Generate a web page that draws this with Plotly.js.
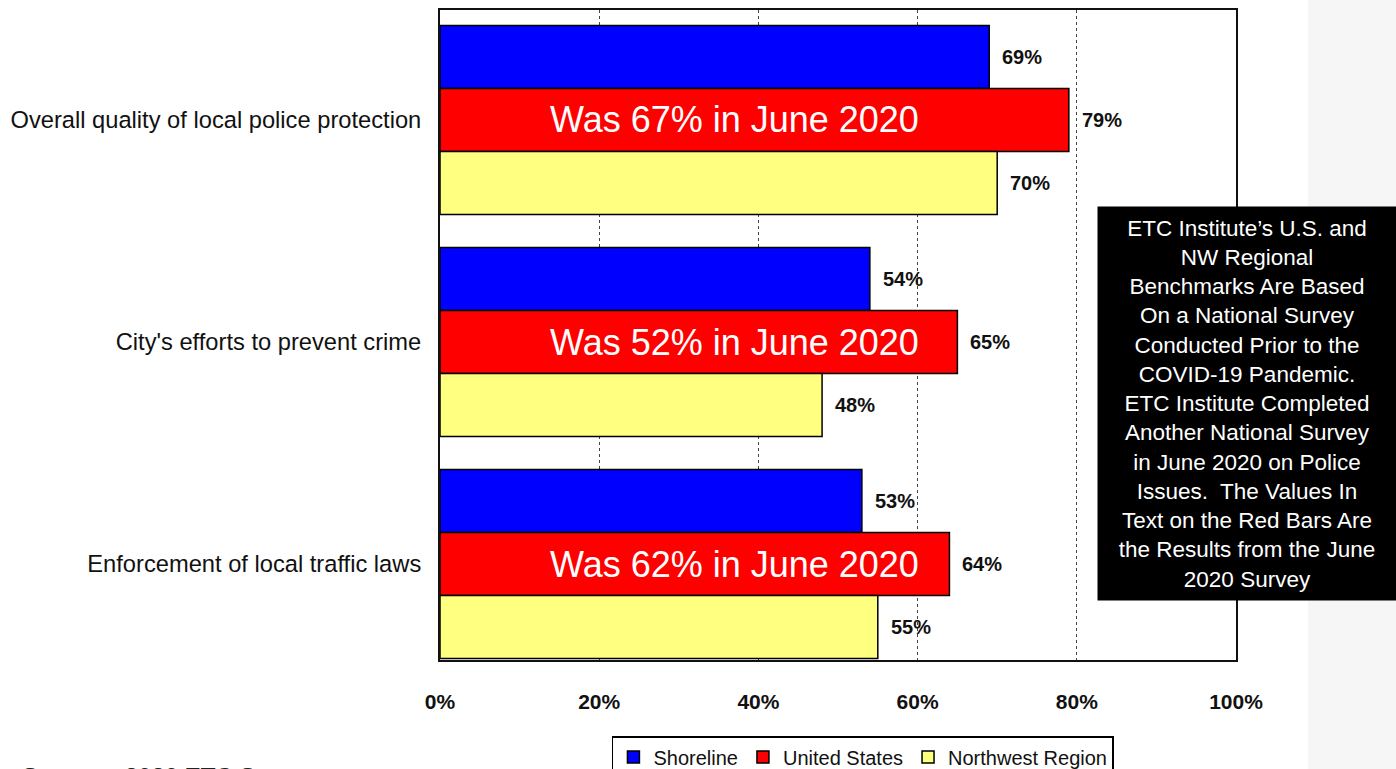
<!DOCTYPE html>
<html>
<head>
<meta charset="utf-8">
<script src="https://cdn.plot.ly/plotly-3.0.1.min.js"></script>
<style>html,body{margin:0;padding:0;background:#fff;overflow:hidden}#chart{width:1396px;height:769px}</style>
</head>
<body>
<div id="chart"></div>
<script>
const categories = ["Overall quality of local police protection", "City's efforts to prevent crime", "Enforcement of local traffic laws"];
const shoreline = [69, 54, 53];
const unitedStates = [79, 65, 64];
const northwest = [70, 48, 55];
const june2020 = [67, 52, 62];
const seriesNames = ["Shoreline", "United States", "Northwest Region"];
const seriesColors = ["#0000ff", "#ff0000", "#ffff80"];
const xTickVals = [0, 20, 40, 60, 80, 100];
const xTickText = ["0%", "20%", "40%", "60%", "80%", "100%"];
const noteText = ["ETC Institute\u2019s U.S. and", "NW Regional", "Benchmarks Are Based", "On a National Survey", "Conducted Prior to the", "COVID-19 Pandemic.", "ETC Institute Completed", "Another National Survey", "in June 2020 on Police", "Issues.  The Values In", "Text on the Red Bars Are", "the Results from the June", "2020 Survey"];
const sourceText = "Source:  2020 ETC Survey";

const FONT = "Arial, 'Liberation Sans', sans-serif";
const pos = categories.map((c, i) => i);
const bargap = 0.149;
const w = (1 - bargap) / 3;
const allSeries = [shoreline, unitedStates, northwest];

const traces = allSeries.map((vals, k) => ({
  type: "bar",
  orientation: "h",
  name: seriesNames[k],
  x: vals,
  y: pos,
  marker: {color: seriesColors[k], line: {color: "#000", width: 1.5}},
  hoverinfo: "skip"
}));

const annotations = [];
allSeries.forEach((vals, k) => {
  vals.forEach((v, i) => {
    annotations.push({
      x: v, y: i + (k - 1) * w, xref: "x", yref: "y",
      text: v + "%", showarrow: false, xanchor: "left", xshift: 11,
      font: {family: FONT, size: 20, color: "#111", weight: "bold"}
    });
  });
});
june2020.forEach((v, i) => {
  annotations.push({
    x: 37, y: i, xref: "x", yref: "y",
    text: "Was " + v + "% in June 2020", showarrow: false,
    font: {family: FONT, size: 36, color: "#fff"}
  });
});
annotations.push({
  x: 1.0138, y: 0.3946, xref: "paper", yref: "paper",
  xanchor: "center", yanchor: "middle",
  text: noteText.join("<br>"), showarrow: false,
  bgcolor: "#000", width: 290, height: 385, borderpad: 4,
  font: {family: FONT, size: 22.5, color: "#fff"}
});
annotations.push({
  x: -0.528, y: -0.155, xref: "paper", yref: "paper",
  xanchor: "left", yanchor: "top", text: sourceText, showarrow: false,
  font: {family: FONT, size: 24, color: "#222", weight: "bold"}
});

const layout = {
  width: 1396, height: 769,
  margin: {l: 440, r: 160, t: 10, b: 109, pad: 0, autoexpand: false},
  paper_bgcolor: "#fff", plot_bgcolor: "#fff",
  barmode: "group", bargap: bargap, bargroupgap: 0,
  font: {family: FONT, color: "#111"},
  xaxis: {
    range: [0, 100], tickvals: xTickVals, ticktext: xTickText,
    showgrid: true, gridcolor: "#444", griddash: "dot", gridwidth: 1,
    zeroline: false, showline: true, linecolor: "#111", linewidth: 2, mirror: true,
    ticks: "", ticklabelstandoff: 22,
    tickfont: {family: FONT, size: 21, color: "#111", weight: "bold"}
  },
  yaxis: {
    range: [2.432, -0.495], tickvals: pos, ticktext: categories,
    showgrid: false, zeroline: false, showline: true, linecolor: "#111", linewidth: 2, mirror: true,
    ticks: "", ticklabelstandoff: 12,
    tickfont: {family: FONT, size: 23.7, color: "#111"}
  },
  showlegend: true,
  legend: {
    orientation: "h", x: 0.216, xanchor: "left", y: -0.117, yanchor: "top",
    bgcolor: "#fff", bordercolor: "#000", borderwidth: 1.5,
    font: {family: FONT, size: 20, color: "#111"}, itemwidth: 30, traceorder: "normal"
  },
  shapes: [{
    type: "rect", xref: "paper", yref: "paper", x0: 1.0905, x1: 1.21, y0: -0.2, y1: 1.05,
    fillcolor: "#f6f6f6", line: {width: 0}, layer: "below"
  }],
  annotations: annotations
};

Plotly.newPlot("chart", traces, layout, {displayModeBar: false, staticPlot: true});
</script>
</body>
</html>
